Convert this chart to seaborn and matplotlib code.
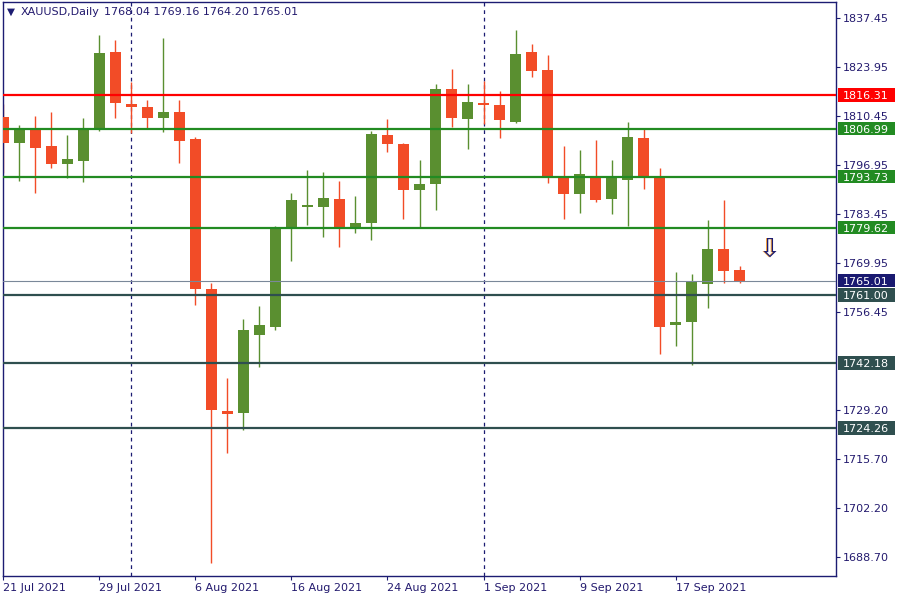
import numpy as np
import pandas as pd
import matplotlib
matplotlib.use("Agg")
import matplotlib.pyplot as plt
from matplotlib.patches import Rectangle
import seaborn as sns

# ---------------- data ----------------
dates = ["2021-07-21", "2021-07-22", "2021-07-23", "2021-07-26", "2021-07-27", "2021-07-28",
         "2021-07-29", "2021-07-30", "2021-08-02", "2021-08-03", "2021-08-04", "2021-08-05",
         "2021-08-06", "2021-08-09", "2021-08-10", "2021-08-11", "2021-08-12", "2021-08-13",
         "2021-08-16", "2021-08-17", "2021-08-18", "2021-08-19", "2021-08-20", "2021-08-23",
         "2021-08-24", "2021-08-25", "2021-08-26", "2021-08-27", "2021-08-30", "2021-08-31",
         "2021-09-01", "2021-09-02", "2021-09-03", "2021-09-06", "2021-09-07", "2021-09-08",
         "2021-09-09", "2021-09-10", "2021-09-13", "2021-09-14", "2021-09-15", "2021-09-16",
         "2021-09-17", "2021-09-20", "2021-09-21", "2021-09-22", "2021-09-23"]

opens = [1810.27, 1803.09, 1806.59, 1802.17, 1797.28, 1798.03, 1806.68, 1828.14, 1813.78, 1812.95,
         1809.99, 1811.57, 1804.11, 1762.67, 1728.97, 1728.50, 1749.96, 1752.26, 1779.33, 1785.32,
         1785.32, 1787.53, 1779.80, 1780.99, 1805.21, 1802.73, 1790.10, 1791.76, 1817.92, 1809.72,
         1814.05, 1813.50, 1808.89, 1828.14, 1823.17, 1793.89, 1789.00, 1793.61, 1787.62, 1792.86,
         1804.38, 1793.61, 1752.81, 1753.64, 1764.14, 1773.72, 1768.04]
highs = [1813.78, 1807.97, 1810.46, 1811.57, 1805.21, 1809.99, 1832.84, 1831.46, 1819.94, 1814.88,
         1831.93, 1814.88, 1804.74, 1764.25, 1738.09, 1754.38, 1757.97, 1780.00, 1789.19, 1795.54,
         1794.99, 1792.51, 1788.36, 1806.32, 1809.63, 1803.00, 1798.31, 1819.30, 1823.44, 1819.30,
         1820.13, 1817.37, 1834.22, 1830.35, 1827.31, 1802.17, 1801.07, 1803.83, 1798.31, 1808.80,
         1807.15, 1796.10, 1767.37, 1766.81, 1781.73, 1787.26, 1769.16]
lows = [1794.63, 1792.51, 1789.27, 1796.18, 1793.42, 1792.31, 1806.40, 1809.99, 1805.68, 1806.95,
        1806.12, 1797.56, 1758.33, 1687.06, 1717.45, 1723.80, 1741.21, 1751.35, 1770.49, 1780.43,
        1777.04, 1774.36, 1778.22, 1776.29, 1800.60, 1782.09, 1779.60, 1784.58, 1807.42, 1801.43,
        1808.25, 1804.47, 1808.61, 1821.32, 1792.04, 1782.09, 1783.75, 1786.79, 1783.47, 1780.16,
        1790.38, 1744.80, 1747.01, 1741.76, 1757.51, 1764.41, 1764.20]
closes = [1803.09, 1806.59, 1801.70, 1797.28, 1798.58, 1807.23, 1827.86, 1814.14, 1813.03, 1809.99,
          1811.57, 1803.64, 1762.75, 1729.33, 1728.22, 1751.35, 1752.73, 1779.60, 1787.26, 1785.88,
          1787.81, 1779.80, 1780.90, 1805.49, 1802.81, 1790.10, 1791.68, 1817.92, 1809.99, 1814.33,
          1813.50, 1809.44, 1827.59, 1822.97, 1793.69, 1789.00, 1794.44, 1787.34, 1793.33, 1804.66,
          1793.42, 1752.26, 1753.55, 1764.60, 1773.72, 1767.73, 1765.01]

levels = [1816.31, 1806.99, 1793.73, 1779.62, 1761.00, 1742.18, 1724.26]
level_labels = ["1816.31", "1806.99", "1793.73", "1779.62", "1761.00", "1742.18", "1724.26"]
level_colors = ["#ff0000", "#228b22", "#228b22", "#228b22", "#2f4f4f", "#2f4f4f", "#2f4f4f"]

y_ticks = [1837.45, 1823.95, 1810.45, 1796.95, 1783.45, 1769.95, 1756.45,
           1729.20, 1715.70, 1702.20, 1688.70]
x_tick_step = 6

symbol_title = "XAUUSD,Daily"
arrow_pos = (47.9, 1773.4)

# ---------------- style ----------------
sns.set_theme(style="white")
plt.rcParams['font.family'] = ['DejaVu Sans']

NAVY = "#1c1c72"
TEXT = "#231a6e"
BULL = "#5a8f30"
BEAR = "#f24c27"

df = pd.DataFrame({"date": pd.to_datetime(dates), "open": opens, "high": highs,
                   "low": lows, "close": closes})
df["x"] = np.arange(len(df))
df["bull"] = df["close"] >= df["open"]
df["color"] = np.where(df["bull"], BULL, BEAR)
df["bottom"] = df[["open", "close"]].min(axis=1)
df["height"] = (df["close"] - df["open"]).abs()

fig = plt.figure(figsize=(9, 6), dpi=100)
fig.patch.set_facecolor("white")
ax = fig.add_axes([3 / 900, 24 / 600, 833 / 900, 574 / 600])
ax.set_facecolor("white")

ax.set_xlim(-0.03, 52.03)
ax.set_ylim(1683.39, 1841.95)

# month separators
month = df["date"].dt.month.values
sep_idx = [i for i in range(1, len(df)) if month[i] != month[i - 1]]
for i in sep_idx:
    ax.axvline(df["x"].iloc[i], color=NAVY, lw=0.9, ls=(0, (3, 3)), zorder=1)

# candles
ax.vlines(df["x"], df["low"], df["high"], colors=df["color"], lw=1.0, zorder=2)
ax.bar(df["x"], df["height"], bottom=df["bottom"], width=0.72, color=df["color"],
       linewidth=0, zorder=3)

# level lines
for lv, c in zip(levels, level_colors):
    ax.axhline(lv, color=c, lw=1.6, zorder=4)

# current price line
last = closes[-1]
ax.axhline(last, color="#7a8899", lw=0.8, zorder=4)

# spines
for s in ax.spines.values():
    s.set_color(NAVY)
    s.set_linewidth(1.0)
    s.set_visible(True)

# ticks
ax.yaxis.tick_right()
ax.set_yticks(y_ticks)
ax.set_yticklabels([f"{v:.2f}" for v in y_ticks])
ax.tick_params(axis="y", which="both", right=True, left=False, labelright=True,
               labelleft=False, length=3, width=0.8, color=NAVY, labelcolor=TEXT,
               labelsize=8, pad=2)

tick_idx = list(range(0, len(df), x_tick_step))
ax.set_xticks(df["x"].iloc[tick_idx])
ax.set_xticklabels([f"{d.day} {d.strftime('%b %Y')}" for d in df["date"].iloc[tick_idx]])
ax.tick_params(axis="x", which="both", bottom=True, length=3, width=0.8, color=NAVY,
               labelcolor=TEXT, labelsize=8, pad=2)
for lab in ax.get_xticklabels():
    lab.set_ha("left")
ax.grid(False)

# price labels on right axis
px_per_unit = (574) / (1841.95 - 1683.39)
half_h = 6.8 / px_per_unit
x0 = (838 - 3) / 833
w = 57 / 833
ytr = ax.get_yaxis_transform()
all_labels = list(zip(levels, level_labels, level_colors)) + [(last, f"{last:.2f}", "#191970")]
for lv, txt, c in all_labels:
    ax.add_patch(Rectangle((x0, lv - half_h), w, 2 * half_h, transform=ytr,
                           facecolor=c, edgecolor="none", clip_on=False, zorder=6))
    ax.text(x0 + 4.5 / 833, lv, txt, transform=ytr, color="white", fontsize=8,
            va="center_baseline", ha="left", clip_on=False, zorder=7)

# title
fig.text(7 / 900, 1 - 12 / 600, "\u25bc", fontsize=7.5, color=NAVY, va="center", ha="left")
fig.text(21 / 900, 1 - 12 / 600, symbol_title, fontsize=8, color=TEXT, va="center", ha="left")
fig.text(104 / 900, 1 - 12 / 600,
         f"{opens[-1]:.2f} {highs[-1]:.2f} {lows[-1]:.2f} {closes[-1]:.2f}",
         fontsize=8, color=TEXT, va="center", ha="left")

# arrow marker
ax.text(arrow_pos[0] - 0.07, arrow_pos[1], "\u21e9", fontsize=19, color="#f0a040",
        ha="center", va="center", zorder=5)
ax.text(arrow_pos[0], arrow_pos[1], "\u21e9", fontsize=19, color=NAVY,
        ha="center", va="center", zorder=5)

fig.savefig("out.png", dpi=100)
